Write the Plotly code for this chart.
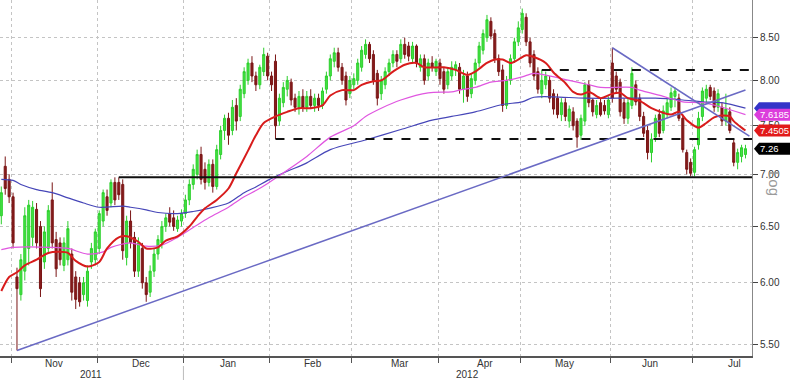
import math
import pandas as pd
import plotly.graph_objects as go

# ---------------- candles: (open, high, low, close) per trading day ----------------
oct_2011 = [(6.60, 6.88, 6.52, 6.82), (7.08, 7.18, 6.80, 6.86), (6.95, 7.00, 6.72, 6.78)]
nov_2011 = [
    (6.78, 6.82, 6.30, 6.35), (6.05, 6.13, 5.45, 5.95), (5.90, 6.25, 5.85, 6.20), (6.10, 6.68, 6.02, 6.60),
    (6.30, 6.75, 6.15, 6.70), (6.40, 6.74, 6.32, 6.68), (6.66, 6.72, 6.30, 6.35), (6.50, 6.55, 5.88, 5.95),
    (6.18, 6.50, 6.12, 6.45), (6.30, 6.70, 6.25, 6.65), (6.75, 6.92, 6.30, 6.35), (6.38, 6.45, 6.05, 6.12),
    (6.35, 6.40, 6.15, 6.20), (6.15, 6.40, 6.10, 6.35), (6.20, 6.55, 6.15, 6.48), (6.25, 6.30, 5.85, 5.92),
    (6.05, 6.10, 5.78, 5.86), (6.00, 6.05, 5.80, 5.84), (5.90, 6.05, 5.85, 6.00), (5.85, 6.15, 5.80, 6.10),
    (6.18, 6.35, 6.12, 6.30), (6.20, 6.48, 6.15, 6.45)]
dec_2011 = [
    (6.30, 6.65, 6.25, 6.62), (6.55, 6.85, 6.50, 6.82), (6.78, 6.85, 6.60, 6.65), (6.72, 6.95, 6.68, 6.92),
    (6.92, 6.97, 6.70, 6.75), (6.92, 6.97, 6.75, 6.80), (6.90, 6.95, 6.20, 6.28), (6.22, 6.60, 6.15, 6.55),
    (6.55, 6.65, 6.30, 6.35), (6.40, 6.45, 6.05, 6.10), (6.10, 6.40, 6.05, 6.35), (6.30, 6.35, 5.95, 6.00),
    (6.00, 6.05, 5.84, 5.90), (5.92, 6.15, 5.88, 6.10), (6.10, 6.30, 6.05, 6.25), (6.25, 6.42, 6.20, 6.38),
    (6.35, 6.55, 6.30, 6.50), (6.50, 6.62, 6.45, 6.58), (6.62, 6.68, 6.50, 6.54), (6.58, 6.65, 6.46, 6.50),
    (6.48, 6.60, 6.45, 6.56), (6.55, 6.66, 6.50, 6.62)]
jan_2012 = [
    (6.62, 6.80, 6.58, 6.75), (6.75, 6.95, 6.70, 6.90), (6.90, 7.10, 6.85, 7.05), (7.00, 7.25, 6.95, 7.20),
    (7.20, 7.28, 6.90, 6.95), (7.05, 7.12, 6.85, 6.92), (6.92, 7.15, 6.88, 7.10), (7.10, 7.15, 6.82, 6.88),
    (6.88, 7.30, 6.85, 7.25), (7.20, 7.50, 7.15, 7.45), (7.45, 7.62, 7.35, 7.58), (7.58, 7.64, 7.30, 7.40),
    (7.45, 7.78, 7.40, 7.70), (7.72, 7.80, 7.45, 7.55), (7.60, 7.95, 7.55, 7.90), (7.85, 8.15, 7.80, 8.10),
    (8.00, 8.25, 7.95, 8.20), (8.20, 8.28, 7.98, 8.05), (8.05, 8.10, 7.88, 7.95), (7.95, 8.18, 7.90, 8.15),
    (8.10, 8.38, 8.05, 8.30), (8.28, 8.32, 8.00, 8.05)]
feb_2012 = [
    (8.05, 8.10, 7.88, 7.95), (8.22, 8.30, 7.36, 7.50), (7.55, 7.85, 7.50, 7.80), (7.75, 7.98, 7.70, 7.92),
    (7.90, 8.05, 7.82, 8.00), (7.98, 8.02, 7.72, 7.78), (7.80, 7.85, 7.65, 7.70), (7.70, 7.88, 7.62, 7.82),
    (7.82, 7.90, 7.65, 7.70), (7.70, 7.88, 7.65, 7.82), (7.82, 7.90, 7.68, 7.72), (7.72, 7.85, 7.65, 7.80),
    (7.80, 7.85, 7.66, 7.72), (7.72, 7.92, 7.68, 7.88), (7.90, 8.10, 7.85, 8.05), (8.05, 8.30, 8.00, 8.25),
    (8.22, 8.38, 8.15, 8.32), (8.32, 8.38, 8.10, 8.15), (8.15, 8.20, 7.95, 8.00), (8.05, 8.10, 7.72, 7.78),
    (7.85, 8.05, 7.80, 8.00)]
mar_2012 = [
    (7.95, 8.08, 7.90, 8.02), (8.00, 8.25, 7.95, 8.20), (8.15, 8.40, 8.10, 8.35), (8.30, 8.48, 8.25, 8.42),
    (8.42, 8.45, 8.20, 8.25), (8.30, 8.35, 7.95, 8.00), (8.08, 8.12, 7.72, 7.80), (7.85, 8.05, 7.78, 8.00),
    (7.95, 8.15, 7.90, 8.10), (8.10, 8.25, 8.05, 8.20), (8.20, 8.35, 8.15, 8.30), (8.30, 8.35, 8.15, 8.22),
    (8.25, 8.48, 8.20, 8.42), (8.42, 8.50, 8.25, 8.30), (8.40, 8.45, 8.22, 8.28), (8.25, 8.45, 8.20, 8.40),
    (8.40, 8.42, 8.15, 8.20), (8.15, 8.30, 8.10, 8.25), (8.25, 8.30, 7.95, 8.00), (8.05, 8.25, 8.00, 8.20),
    (8.20, 8.28, 8.10, 8.15), (8.10, 8.25, 8.05, 8.22)]
apr_2012 = [
    (8.20, 8.25, 7.95, 8.02), (8.10, 8.15, 7.85, 7.90), (7.95, 8.15, 7.90, 8.10), (8.05, 8.22, 8.00, 8.15),
    (8.12, 8.22, 8.05, 8.18), (8.15, 8.20, 7.85, 7.90), (7.90, 8.12, 7.75, 8.05), (8.05, 8.10, 7.76, 7.82),
    (7.85, 8.08, 7.80, 8.02), (8.00, 8.25, 7.95, 8.20), (8.20, 8.45, 8.15, 8.40), (8.35, 8.60, 8.30, 8.55),
    (8.50, 8.78, 8.45, 8.72), (8.70, 8.75, 8.48, 8.52), (8.55, 8.60, 8.20, 8.25), (8.25, 8.30, 8.05, 8.10),
    (8.12, 8.18, 7.65, 7.72), (7.72, 8.05, 7.68, 8.00), (8.00, 8.30, 7.95, 8.25), (8.25, 8.50, 8.20, 8.45),
    (8.45, 8.70, 8.40, 8.62)]
may_2012 = [
    (8.60, 8.86, 8.55, 8.80), (8.75, 8.80, 8.40, 8.45), (8.45, 8.50, 8.15, 8.20), (8.30, 8.35, 8.00, 8.05),
    (8.10, 8.15, 7.85, 7.90), (7.85, 8.12, 7.80, 8.00), (7.95, 8.10, 7.90, 8.05), (8.00, 8.05, 7.75, 7.80),
    (7.85, 7.90, 7.62, 7.68), (7.80, 7.85, 7.58, 7.62), (7.62, 7.80, 7.55, 7.75), (7.75, 7.80, 7.55, 7.60),
    (7.55, 7.72, 7.48, 7.68), (7.65, 7.70, 7.45, 7.50), (7.55, 7.58, 7.27, 7.38), (7.40, 7.62, 7.35, 7.58),
    (7.55, 7.98, 7.50, 7.95), (7.95, 8.00, 7.70, 7.75), (7.78, 7.80, 7.60, 7.65), (7.62, 7.78, 7.58, 7.72),
    (7.75, 7.80, 7.60, 7.62), (7.72, 7.78, 7.62, 7.66), (7.62, 7.82, 7.58, 7.78)]
jun_2012 = [
    (8.20, 8.38, 7.75, 7.80), (8.05, 8.10, 7.85, 7.90), (7.98, 8.02, 7.60, 7.65), (7.75, 7.80, 7.52, 7.58),
    (7.58, 7.80, 7.52, 7.75), (7.72, 8.15, 7.68, 8.08), (7.95, 8.00, 7.72, 7.76), (7.80, 7.85, 7.55, 7.60),
    (7.60, 7.65, 7.38, 7.42), (7.45, 7.50, 7.15, 7.22), (7.22, 7.42, 7.12, 7.36), (7.38, 7.62, 7.33, 7.58),
    (7.62, 7.68, 7.38, 7.42), (7.45, 7.72, 7.42, 7.66), (7.62, 7.80, 7.58, 7.75), (7.70, 7.92, 7.66, 7.86),
    (7.82, 7.92, 7.70, 7.88), (7.80, 7.85, 7.55, 7.58), (7.58, 7.62, 7.22, 7.25), (7.22, 7.25, 7.00, 7.05),
    (7.12, 7.16, 6.98, 7.01)]
jul_2012 = [
    (7.02, 7.28, 6.98, 7.25), (7.30, 7.65, 7.25, 7.58), (7.60, 7.92, 7.55, 7.88), (7.80, 7.95, 7.75, 7.90),
    (7.92, 7.95, 7.78, 7.82), (7.88, 7.92, 7.65, 7.70), (7.70, 7.90, 7.65, 7.85), (7.70, 7.75, 7.50, 7.55),
    (7.55, 7.85, 7.50, 7.68), (7.65, 7.70, 7.42, 7.45), (7.32, 7.36, 7.08, 7.12), (7.12, 7.26, 7.05, 7.22),
    (7.18, 7.30, 7.12, 7.27), (7.20, 7.30, 7.16, 7.26)]

month_spans = [("2011-10-27", "2011-10-31"), ("2011-11-01", "2011-11-30"), ("2011-12-01", "2011-12-30"),
               ("2012-01-02", "2012-01-31"), ("2012-02-01", "2012-02-29"), ("2012-03-01", "2012-03-30"),
               ("2012-04-02", "2012-04-30"), ("2012-05-01", "2012-05-31"), ("2012-06-01", "2012-06-29"),
               ("2012-07-02", "2012-07-19")]
blocks = [oct_2011, nov_2011, dec_2011, jan_2012, feb_2012, mar_2012, apr_2012, may_2012, jun_2012, jul_2012]

# ---------------- moving averages ----------------
red_ma_dates = ["2011-10-27", "2011-10-31", "2011-11-02", "2011-11-04", "2011-11-09", "2011-11-14", "2011-11-17",
                "2011-11-21", "2011-11-23", "2011-11-28", "2011-12-01", "2011-12-05", "2011-12-08", "2011-12-12",
                "2011-12-15", "2011-12-19", "2011-12-22", "2011-12-26", "2011-12-29", "2012-01-03", "2012-01-05",
                "2012-01-09", "2012-01-12", "2012-01-17", "2012-01-19", "2012-01-24", "2012-01-26", "2012-01-30",
                "2012-02-02", "2012-02-07", "2012-02-10", "2012-02-15", "2012-02-20", "2012-02-22", "2012-02-27",
                "2012-03-01", "2012-03-05", "2012-03-08", "2012-03-12", "2012-03-15", "2012-03-20", "2012-03-23",
                "2012-03-27", "2012-04-03", "2012-04-06", "2012-04-11", "2012-04-13", "2012-04-18", "2012-04-20",
                "2012-04-24", "2012-04-26", "2012-04-30", "2012-05-02", "2012-05-04", "2012-05-09", "2012-05-11",
                "2012-05-16", "2012-05-18", "2012-05-22", "2012-05-24", "2012-05-25", "2012-05-29", "2012-06-01",
                "2012-06-05", "2012-06-07", "2012-06-12", "2012-06-15", "2012-06-20", "2012-06-22", "2012-06-26",
                "2012-06-28", "2012-07-03", "2012-07-05", "2012-07-09", "2012-07-11", "2012-07-13", "2012-07-16",
                "2012-07-18", "2012-07-19"]
red_ma_vals = [5.93, 6.05, 6.09, 6.15, 6.20, 6.26, 6.27, 6.26, 6.19, 6.14, 6.18, 6.30, 6.40, 6.41, 6.36, 6.30,
               6.31, 6.37, 6.41, 6.50, 6.59, 6.67, 6.75, 6.86, 7.01, 7.24, 7.40, 7.53, 7.60, 7.65, 7.69, 7.69,
               7.72, 7.83, 7.89, 7.89, 7.95, 7.99, 8.00, 8.10, 8.18, 8.20, 8.15, 8.15, 8.12, 8.06, 8.10, 8.20,
               8.24, 8.24, 8.20, 8.24, 8.29, 8.27, 8.20, 8.09, 7.97, 7.87, 7.84, 7.87, 7.85, 7.80, 7.85, 7.86,
               7.80, 7.77, 7.69, 7.64, 7.62, 7.65, 7.56, 7.48, 7.53, 7.59, 7.61, 7.60, 7.55, 7.48, 7.45]

pink_ma_dates = ["2011-10-27", "2011-11-01", "2011-11-15", "2011-11-21", "2011-11-28", "2011-12-02", "2011-12-06",
                 "2011-12-09", "2011-12-13", "2011-12-19", "2011-12-23", "2011-12-29", "2012-01-04", "2012-01-10",
                 "2012-01-17", "2012-01-23", "2012-01-26", "2012-01-31", "2012-02-07", "2012-02-14", "2012-02-22",
                 "2012-03-01", "2012-03-06", "2012-03-12", "2012-03-19", "2012-03-28", "2012-04-05", "2012-04-09",
                 "2012-04-13", "2012-04-19", "2012-04-25", "2012-05-01", "2012-05-04", "2012-05-09", "2012-05-17",
                 "2012-05-24", "2012-05-29", "2012-06-08", "2012-06-12", "2012-06-20", "2012-06-27", "2012-07-04",
                 "2012-07-11", "2012-07-19"]
pink_ma_vals = [6.29, 6.31, 6.31, 6.30, 6.25, 6.27, 6.31, 6.34, 6.35, 6.32, 6.33, 6.40, 6.49, 6.58, 6.68, 6.78,
                6.84, 6.91, 7.04, 7.18, 7.38, 7.50, 7.60, 7.69, 7.78, 7.86, 7.87, 7.89, 7.92, 7.98, 8.00, 8.04,
                8.08, 8.06, 8.00, 7.95, 7.92, 7.92, 7.89, 7.82, 7.76, 7.75, 7.70, 7.62]

blue_ma_dates = ["2011-10-27", "2011-11-01", "2011-11-03", "2011-11-09", "2011-11-15", "2011-11-21", "2011-11-25",
                 "2011-12-01", "2011-12-09", "2011-12-13", "2011-12-19", "2011-12-22", "2011-12-29", "2012-01-04",
                 "2012-01-10", "2012-01-17", "2012-01-23", "2012-01-26", "2012-01-31", "2012-02-07", "2012-02-14",
                 "2012-02-22", "2012-03-06", "2012-03-19", "2012-03-29", "2012-04-05", "2012-04-13", "2012-04-24",
                 "2012-05-01", "2012-05-04", "2012-05-11", "2012-05-23", "2012-06-08", "2012-06-18", "2012-06-27",
                 "2012-07-04", "2012-07-11", "2012-07-19"]
blue_ma_vals = [6.95, 6.94, 6.90, 6.85, 6.82, 6.77, 6.72, 6.68, 6.69, 6.68, 6.655, 6.63, 6.62, 6.64, 6.67, 6.72,
                6.82, 6.875, 6.94, 7.03, 7.115, 7.25, 7.35, 7.46, 7.56, 7.60, 7.65, 7.73, 7.76, 7.81, 7.815, 7.80,
                7.80, 7.80, 7.78, 7.76, 7.75, 7.69]

# ---------------- drawn levels and trend lines ----------------
level_vals = [6.97, 7.36, 8.12]
level_start = ["2011-12-08", "2012-02-02", "2012-05-08"]
level_dash = ["solid", "dash", "dash"]
up_trend_dates = ["2011-11-02", "2012-07-19"]
up_trend_vals = [5.45, 7.89]
down_trend_dates = ["2012-06-01", "2012-07-20"]
down_trend_vals = [8.38, 7.39]

# ---------------- right-hand value tags ----------------
tag_vals = [7.69, 7.6185, 7.4505, 7.26]
tag_text = ["", "7.6185", "7.4505", "7.26"]
tag_colors = ["#3434c8", "#dc3ddc", "#e21a1a", "#000000"]

# ---------------- axes text ----------------
y_ticks = [5.5, 6.0, 6.5, 7.0, 7.5, 8.0, 8.5]
y_ticktext = ["5.50", "6.00", "6.50", "7.00", "7.50", "8.00", "8.50"]
month_bounds = ["2011-10-31 12:00", "2011-11-30 12:00", "2011-12-30 12:00", "2012-01-31 12:00",
                "2012-02-29 12:00", "2012-03-30 12:00", "2012-04-30 12:00", "2012-05-31 12:00", "2012-06-29 12:00"]
month_labels = ["Nov", "Dec", "Jan", "Feb", "Mar", "Apr", "May", "Jun", "Jul"]
month_label_pos = ["2011-11-15 12:00", "2011-12-15 16:00", "2012-01-17 00:00", "2012-02-15 14:00",
                   "2012-03-16 19:00", "2012-04-17 12:00", "2012-05-15 22:00", "2012-06-14 14:00", "2012-07-16 07:00"]
year_labels = ["2011", "2012"]
year_label_pos = ["2011-11-28 22:00", "2012-04-11 00:00"]
year_sep = "2011-12-30 12:00"

X_RANGE = ["2011-10-26 16:00", "2012-07-20 16:00"]
Y_LO, Y_HI = 5.407, 8.968

# ---------------- build ----------------
dates, o, h, l, c = [], [], [], [], []
for (s, e), blk in zip(month_spans, blocks):
    d = pd.bdate_range(s, e)
    assert len(d) == len(blk), (s, len(d), len(blk))
    for day, (op, hi, lo, cl) in zip(d, blk):
        dates.append(day)
        o.append(op); h.append(hi); l.append(lo); c.append(cl)

fig = go.Figure()
fig.add_trace(go.Candlestick(
    x=dates, open=o, high=h, low=l, close=c,
    increasing=dict(line=dict(color="#2ccf2c", width=1), fillcolor="#44e244"),
    decreasing=dict(line=dict(color="#7a1515", width=1), fillcolor="#861c1c"),
    whiskerwidth=0, showlegend=False, hoverinfo="skip"))

fig.add_trace(go.Scatter(x=blue_ma_dates, y=blue_ma_vals, mode="lines",
                         line=dict(color="#4646b8", width=1.2, shape="spline", smoothing=0.8)))
fig.add_trace(go.Scatter(x=pink_ma_dates, y=pink_ma_vals, mode="lines",
                         line=dict(color="#e056e0", width=1.2, shape="spline", smoothing=0.8)))
fig.add_trace(go.Scatter(x=red_ma_dates, y=red_ma_vals, mode="lines",
                         line=dict(color="#d81c1c", width=2, shape="spline", smoothing=0.8)))

for v, s, dsh in zip(level_vals, level_start, level_dash):
    fig.add_trace(go.Scatter(x=[s, "2012-07-20 23:00"], y=[v, v], mode="lines",
                             line=dict(color="#111111", width=2, dash=dsh)))

fig.add_trace(go.Scatter(x=up_trend_dates, y=up_trend_vals, mode="lines",
                         line=dict(color="#6a6ac4", width=1.6)))
fig.add_trace(go.Scatter(x=down_trend_dates, y=down_trend_vals, mode="lines",
                         line=dict(color="#6a6ac4", width=1.6)))

ylo, yhi = math.log10(Y_LO), math.log10(Y_HI)
PW, PH = 752, 356


def py(v):
    return (math.log10(v) - ylo) / (yhi - ylo)


shapes = []
annotations = []
hh = 6.0 / PH
for v, t, col in zip(tag_vals, tag_text, tag_colors):
    yc = py(v)
    xt, xb, xr = 754 / PW, 759 / PW, 800 / PW
    shapes.append(dict(type="path", xref="paper", yref="paper",
                       path=f"M {xt},{yc} L {xb},{yc + hh} L {xr},{yc + hh} L {xr},{yc - hh} L {xb},{yc - hh} Z",
                       fillcolor=col, line=dict(width=0), layer="above"))
    if t:
        annotations.append(dict(xref="paper", yref="paper", x=758 / PW, y=yc, text=t, showarrow=False,
                                xanchor="left", yanchor="middle",
                                font=dict(color="white", size=9.5, family="Liberation Sans, Arial, sans-serif")))

for lab, pos in zip(month_labels, month_label_pos):
    annotations.append(dict(xref="x", yref="paper", x=pos, y=-7 / PH, text=lab, showarrow=False,
                            xanchor="center", yanchor="middle",
                            font=dict(color="#333333", size=10, family="Liberation Sans Narrow, Liberation Sans, Arial")))
for lab, pos in zip(year_labels, year_label_pos):
    annotations.append(dict(xref="x", yref="paper", x=pos, y=-18 / PH, text=lab, showarrow=False,
                            xanchor="center", yanchor="middle",
                            font=dict(color="#333333", size=10, family="Liberation Sans Narrow, Liberation Sans, Arial")))
shapes.append(dict(type="line", xref="x", yref="paper", x0=year_sep, x1=year_sep, y0=-10 / PH, y1=-24 / PH,
                   line=dict(color="#bbbbbb", width=1)))

annotations.append(dict(xref="paper", yref="paper", x=775 / PW, y=(PH - 183) / PH, text="Log", showarrow=False,
                        textangle=90, xanchor="center", yanchor="middle",
                        font=dict(color="#9a9a9a", size=15, family="Liberation Sans, Arial")))

fig.update_layout(
    width=790, height=380, margin=dict(l=0, r=790 - PW, t=0, b=380 - PH),
    paper_bgcolor="white", plot_bgcolor="white", showlegend=False, hovermode=False,
    boxgap=0.25, shapes=shapes, annotations=annotations,
    xaxis=dict(type="date", range=X_RANGE, rangebreaks=[dict(bounds=["sat", "mon"])],
               rangeslider=dict(visible=False), tickvals=month_bounds, ticktext=[""] * len(month_bounds),
               ticks="outside", ticklen=5, tickcolor="#555555", showline=True, linecolor="#555555", linewidth=1.5,
               showgrid=True, gridcolor="#c4c4c4", griddash="dot", gridwidth=1, zeroline=False, automargin=False),
    yaxis=dict(type="log", range=[ylo, yhi], side="right", tickvals=y_ticks, ticktext=y_ticktext,
               ticks="outside", ticklen=5, tickcolor="#444444", showline=True, linecolor="#888888",
               showgrid=True, gridcolor="#c4c4c4", griddash="dot", gridwidth=1, zeroline=False,
               tickfont=dict(size=10, color="#333333", family="Liberation Sans Narrow, Liberation Sans, Arial"),
               automargin=False),
)

fig.write_html("out.html", config={"displayModeBar": False, "staticPlot": True},
               post_script="document.body.style.margin='0';document.body.style.padding='0';")
